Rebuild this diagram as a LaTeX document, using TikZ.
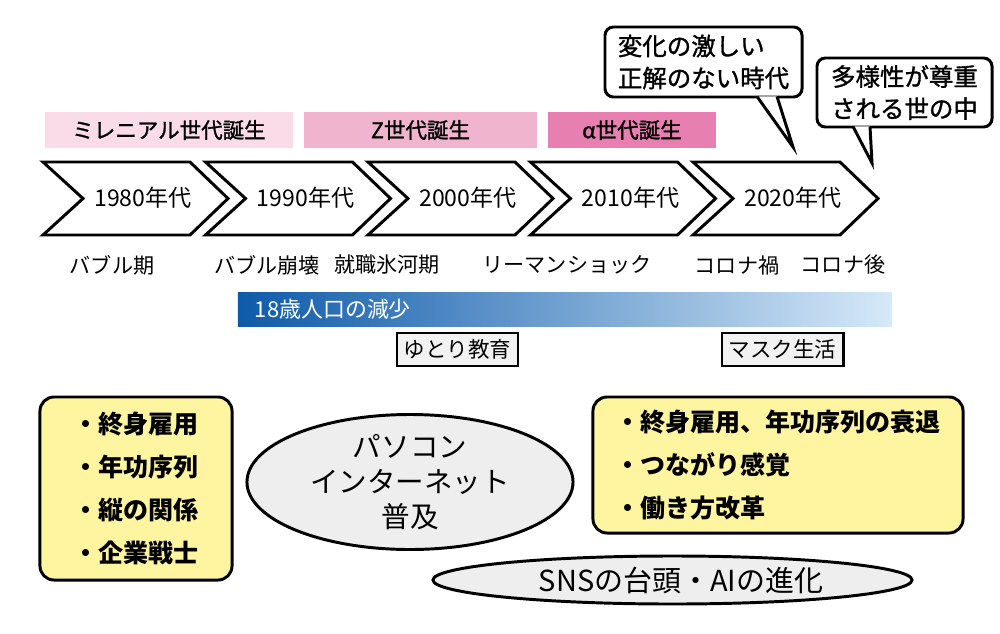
\documentclass[tikz,border=0pt]{standalone}
\usepackage{fontspec}
\setmainfont{Noto Sans CJK JP}
\newfontfamily\jpmedium[FakeBold=1.2]{Noto Sans CJK JP}
\usetikzlibrary{shapes.geometric,calc}
\definecolor{pinkA}{RGB}{249,220,232}
\definecolor{pinkB}{RGB}{241,180,206}
\definecolor{pinkC}{RGB}{231,128,176}
\definecolor{barL}{RGB}{14,90,170}
\definecolor{barR}{RGB}{214,233,248}
\definecolor{noteyellow}{RGB}{255,245,160}
\definecolor{trendgray}{RGB}{238,238,238}
\definecolor{taggray}{RGB}{242,242,242}

\begin{document}
\begin{tikzpicture}[
    x=0.025cm, y=-0.025cm,
    chev/.style={draw, line width=2.1pt, line join=miter, fill=white},
    era/.style={font=\fontsize{16.4}{18}\selectfont},
    event/.style={font=\fontsize{15}{17}\selectfont},
    gen/.style={minimum height=0.9cm, inner sep=0pt, font=\jpmedium\fontsize{15.3}{17}\selectfont},
    bubble/.style={draw, line width=2.1pt, rounded corners=6pt, fill=white, align=left,
      inner sep=0pt, font=\jpmedium\fontsize{17.4}{22.8}\selectfont},
    tail/.style={draw, line width=2.1pt, fill=white, line join=miter},
    tag/.style={draw, line width=2.1pt, fill=taggray, minimum width=3.025cm,
      minimum height=0.825cm, inner sep=0pt, font=\fontsize{15.3}{17}\selectfont},
    note/.style={draw, line width=2.1pt, rounded corners=10pt, fill=noteyellow, align=left,
      inner sep=0pt, font=\bfseries\fontsize{17.8}{30.5}\selectfont},
    trend/.style={ellipse, draw, line width=2.1pt, fill=trendgray, inner sep=0pt, align=center}
  ]
  \useasboundingbox (0,0) rectangle (1000,633);

  % generations
  \node[gen, fill=pinkA, minimum width=6.2cm] (millennial) at (169,130) {ミレニアル世代誕生};
  \node[gen, fill=pinkB, minimum width=5.825cm] (genz) at (420.5,130) {Z世代誕生};
  \node[gen, fill=pinkC, minimum width=4.2cm] (genalpha) at (632,130) {α世代誕生};

  % decades
  \foreach \yr [count=\i from 0] in {1980,1990,2000,2010,2020} {
    \draw[chev] (43+162.5*\i,162) -- ++(147,0) -- ++(38,36.5) -- ++(-38,36.5)
      -- ++(-147,0) -- ++(40,-36.5) -- cycle;
    \node[era] (d\yr) at (143+162.5*\i,198) {\yr 年代};
  }

  % events
  \node[event] (bubble) at (112,265) {バブル期};
  \node[event] (burst) at (267,265) {バブル崩壊};
  \node[event] (iceage) at (387,265) {就職氷河期};
  \node[event] (lehman) at (567,265) {リーマンショック};
  \node[event] (covid) at (737,265) {コロナ禍};
  \node[event] (postcovid) at (843,265) {コロナ後};

  % speech bubbles
  \node[bubble, minimum width=4.925cm, minimum height=1.75cm] (change) at (703.5,62)
    {変化の激しい\\正解のない時代};
  \coordinate (changetip) at (793,147);
  \draw[tail] ($(change.south)+(53.5,-2)$) -- (changetip) -- ($(change.south)+(73.5,-2)$);
  \node[bubble, minimum width=4.375cm, minimum height=1.725cm] (diverse) at (904.5,92.5)
    {多様性が尊重\\される世の中};
  \coordinate (diversetip) at (872,163);
  \draw[tail] ($(diverse.south)+(-51.5,-2)$) -- (diversetip) -- ($(diverse.south)+(-34.5,-2)$);

  % population
  \node[left color=barL, right color=barR, minimum width=16.35cm, minimum height=0.85cm,
    text width=15.5cm, inner xsep=0.425cm, inner ysep=0pt, align=left, text=white,
    font=\fontsize{15.6}{17}\selectfont] (decline) at (565,309) {18歳人口の減少};
  \node[tag] (yutori) at (457.5,349.5) {ゆとり教育};
  \node[tag] (mask) at (782.5,349.5) {マスク生活};

  % work culture
  \node[note, minimum width=4.8cm, minimum height=4.575cm] (oldstyle) at (136,488.5)
    {・終身雇用\\・年功序列\\・縦の関係\\・企業戦士};
  \node[note, minimum width=9.25cm, minimum height=3.4cm] (newstyle) at (778,465)
    {・終身雇用、年功序列の衰退\\・つながり感覚\\・働き方改革};

  % technology
  \node[trend, minimum width=8.15cm, minimum height=3.05cm,
    font=\fontsize{20.3}{24.9}\selectfont] (pc) at (410,482) {パソコン\\インターネット\\普及};
  \node[trend, minimum width=11.975cm, minimum height=1.2cm] (sns) at (672.5,580) {};
  \node[font=\fontsize{20.6}{23}\selectfont] (snstext) at (681,580) {SNSの台頭・AIの進化};
\end{tikzpicture}
\end{document}
